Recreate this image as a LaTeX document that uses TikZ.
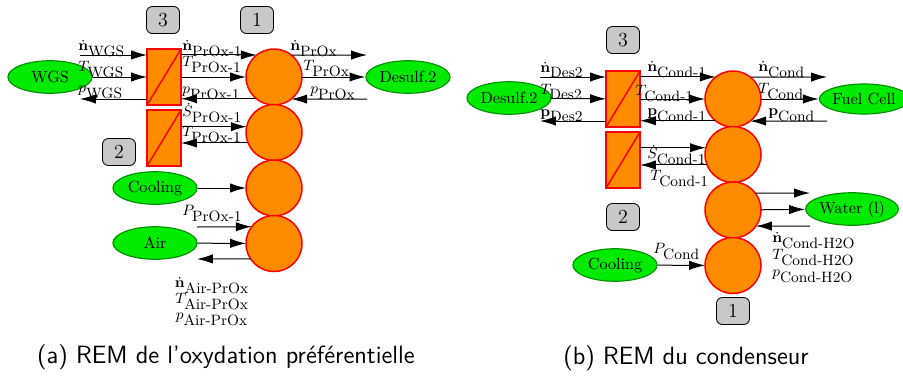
\documentclass[tikz,border=0pt]{standalone}
\usepackage{amsmath}
\usetikzlibrary{arrows.meta,shapes.geometric}
\definecolor{remorange}{RGB}{255,140,0}
\definecolor{remgreen}{RGB}{0,235,0}
\definecolor{remdkgreen}{RGB}{0,145,0}
\definecolor{remgray}{RGB}{200,200,200}
\newcommand{\sbx}[1]{\mbox{#1}}
\tikzset{
  blk/.style={circle, fill=remorange, draw=red, line width=0.9pt, minimum size=33.6pt, inner sep=0pt, outer sep=0pt},
  cvbox/.style={rectangle, fill=remorange, draw=red, line width=0.9pt, minimum width=20.4pt, minimum height=33.6pt, inner sep=0pt, outer sep=0pt},
  src/.style={ellipse, fill=remgreen, draw=remdkgreen, line width=0.7pt, minimum width=50.5pt, minimum height=19.5pt, inner sep=0pt, font=\fontsize{9.7}{11}\selectfont},
  numbox/.style={rectangle, rounded corners=3.5pt, fill=remgray, draw=black, line width=0.5pt, minimum width=19.8pt, minimum height=16.2pt, inner sep=0pt, font=\fontsize{12}{14}\selectfont},
  arr/.style={-{Latex[length=9.5pt,width=5.6pt]}, line width=0.6pt},
  lab/.style={anchor=south west, inner sep=0pt, font=\fontsize{9}{11}\selectfont},
  labc/.style={anchor=south, inner sep=0pt, font=\fontsize{9}{11}\selectfont},
  captxt/.style={inner sep=0pt, font=\fontsize{15}{17}\selectfont\sffamily}
}
\begin{document}
\begin{tikzpicture}[x=0.6pt,y=-0.6pt]
\useasboundingbox (0,0) rectangle (903,377);
% ===== (a) =====
\node[blk] (ca1) at (274,77) {};
\node[blk] (ca2) at (274,132.5) {};
\node[blk] (ca3) at (274,188) {};
\node[blk] (ca4) at (274,243.5) {};
\node[cvbox] (ra1) at (164,77) {};
\node[cvbox] (ra2) at (164,138) {};
\draw[red, line width=0.9pt] (ra1.south west) -- (ra1.north east);
\draw[red, line width=0.9pt] (ra2.south west) -- (ra2.north east);
\node[numbox] (n3a) at (163,20) {3};
\node[numbox] (n1a) at (257,20) {1};
\node[numbox] (n2a) at (119,152) {2};
\node[src] (wgs) at (50,77) {WGS};
\node[src] (des2a) at (408,77) {Desulf.2};
\node[src] (coola) at (155,188) {Cooling};
\node[src] (air) at (155,243) {Air};
\coordinate (wgsN) at (80,55);
\coordinate (wgsP) at (80,99);
\coordinate (proxN) at (367,55);
\coordinate (proxP) at (367,99);
\coordinate (airP) at (197,227);
\coordinate (airR) at (197,259);
\draw[arr] (wgsN) -- (wgsN -| ra1.west);
\draw[arr] (wgs) -- (ra1);
\draw[arr] (wgsP -| ra1.west) -- (wgsP);
\draw[arr] (ra1.east |- ca1.128.2) -- (ca1.128.2);
\draw[arr] (ra1) -- (ca1);
\draw[arr] (ca1.231.8) -- (ra1.east |- ca1.231.8);
\draw[arr] (ca1.51.8) -- (proxN);
\draw[arr] (ca1) -- (des2a);
\draw[arr] (proxP) -- (ca1.308.2);
\draw[arr] (ra2.east |- ca2.168.7) -- (ca2.168.7);
\draw[arr] (ca2.202) -- (ra2.east |- ca2.202);
\draw[arr] (coola) -- (ca3);
\draw[arr] (airP) -- (ca4.143.9);
\draw[arr] (air) -- (ca4);
\draw[arr] (ca4.213.6) -- (airR);
\node[lab] at (78,57) {$\dot{\mathbf{n}}_{\sbx{WGS}}$};
\node[lab] at (78,78) {$T_{\sbx{WGS}}$};
\node[lab] at (78,99) {$p_{\sbx{WGS}}$};
\node[lab] at (182,57) {$\dot{\mathbf{n}}_{\sbx{PrOx-1}}$};
\node[lab] at (182,73) {$T_{\sbx{PrOx-1}}$};
\node[lab] at (182,100) {$p_{\sbx{PrOx-1}}$};
\node[lab] at (182,123) {$\dot{S}_{\sbx{PrOx-1}}$};
\node[lab] at (182,143) {$T_{\sbx{PrOx-1}}$};
\node[lab] at (290,57) {$\dot{\mathbf{n}}_{\sbx{PrOx}}$};
\node[lab] at (303,77) {$T_{\sbx{PrOx}}$};
\node[lab] at (310,100) {$p_{\sbx{PrOx}}$};
\node[lab] at (182,222) {$P_{\sbx{PrOx-1}}$};
\node[labc] at (212,294) {$\dot{\mathbf{n}}_{\sbx{Air-PrOx}}$};
\node[labc] at (212,310) {$T_{\sbx{Air-PrOx}}$};
\node[labc] at (212,326) {$p_{\sbx{Air-PrOx}}$};
\node[captxt] (capa) at (226,357) {(a) REM de l'oxydation préférentielle};
% ===== (b) =====
\node[blk] (cb1) at (733,99) {};
\node[blk] (cb2) at (733,154.5) {};
\node[blk] (cb3) at (733,210) {};
\node[blk] (cb4) at (733,265.5) {};
\node[cvbox] (rb1) at (623,99) {};
\node[cvbox] (rb2) at (623,160) {};
\draw[red, line width=0.9pt] (rb1.south west) -- (rb1.north east);
\draw[red, line width=0.9pt] (rb2.south west) -- (rb2.north east);
\node[numbox] (n3b) at (623,40) {3};
\node[numbox] (n2b) at (623,217) {2};
\node[numbox] (n1b) at (733,311) {1};
\node[src] (des2b) at (509,98) {Desulf.2};
\node[src, minimum width=45.6pt, minimum height=18pt] (fuel) at (864,99) {Fuel Cell};
\node[src] (water) at (852,209) {Water (l)};
\node[src] (coolb) at (615,265) {Cooling};
\coordinate (desN) at (540,77);
\coordinate (desP) at (540,121);
\coordinate (condN) at (827,77);
\coordinate (condP) at (827,121);
\coordinate (wN) at (810,193);
\coordinate (wP) at (810,226);
\draw[arr] (desN) -- (desN -| rb1.west);
\draw[arr] (des2b) -- (rb1);
\draw[arr] (desP -| rb1.west) -- (desP);
\draw[arr] (rb1.east |- cb1.128.2) -- (cb1.128.2);
\draw[arr] (rb1) -- (cb1);
\draw[arr] (cb1.231.8) -- (rb1.east |- cb1.231.8);
\draw[arr] (cb1.51.8) -- (condN);
\draw[arr] (cb1) -- (fuel);
\draw[arr] (condP) -- (cb1.308.2);
\draw[arr] (rb2.east |- cb2.166.6) -- (cb2.166.6);
\draw[arr] (cb2.202) -- (rb2.east |- cb2.202);
\draw[arr] (cb3.37.4) -- (wN);
\draw[arr] (cb3) -- (water);
\draw[arr] (wP) -- (cb3.325.2);
\draw[arr] (coolb) -- (cb4);
\node[lab] at (540,78) {$\dot{\mathbf{n}}_{\sbx{Des2}}$};
\node[lab] at (540,100) {$T_{\sbx{Des2}}$};
\node[lab] at (540,122) {$\mathbf{p}_{\sbx{Des2}}$};
\node[lab] at (647,78) {$\dot{\mathbf{n}}_{\sbx{Cond-1}}$};
\node[lab] at (635,102) {$T_{\sbx{Cond-1}}$};
\node[lab] at (647,122) {$\mathbf{p}_{\sbx{Cond-1}}$};
\node[lab] at (758,78) {$\dot{\mathbf{n}}_{\sbx{Cond}}$};
\node[lab] at (758,100) {$T_{\sbx{Cond}}$};
\node[lab] at (768,122) {$\mathbf{p}_{\sbx{Cond}}$};
\node[lab] at (647,165) {$\dot{S}_{\sbx{Cond-1}}$};
\node[lab] at (650,187) {$T_{\sbx{Cond-1}}$};
\node[lab] at (653,260) {$P_{\sbx{Cond}}$};
\node[lab] at (772,249) {$\dot{\mathbf{n}}_{\sbx{Cond-H2O}}$};
\node[lab] at (772,266) {$T_{\sbx{Cond-H2O}}$};
\node[lab] at (772,283) {$p_{\sbx{Cond-H2O}}$};
\node[captxt] (capb) at (686,358) {(b) REM du condenseur};
\end{tikzpicture}
\end{document}
